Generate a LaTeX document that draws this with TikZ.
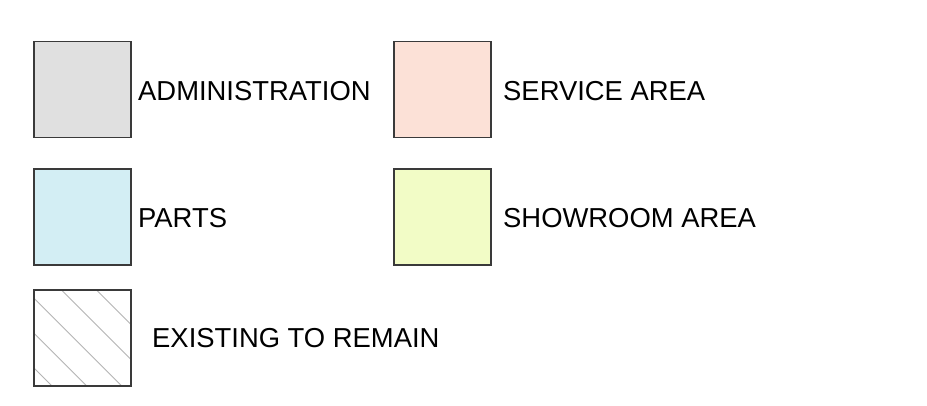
\documentclass[tikz,border=0pt]{standalone}
\usepackage{fontspec}
\setmainfont{Liberation Sans}
\usetikzlibrary{calc}
\definecolor{admincol}{HTML}{E0E0E0}
\definecolor{servcol}{HTML}{FCE1D7}
\definecolor{partscol}{HTML}{D3EEF4}
\definecolor{showcol}{HTML}{F2FCC6}
\definecolor{edgecol}{HTML}{3A3A3A}
\definecolor{hatchcol}{HTML}{B4B4B4}
\begin{document}
\begin{tikzpicture}[x=1pt,y=-1pt,
  swatch/.style={draw=edgecol,line width=1.3pt,minimum width=97pt,minimum height=96pt,inner sep=0pt},
  lbl/.style={anchor=base west,inner sep=0pt,font=\fontsize{27.4}{30}\selectfont,text=black}]
\useasboundingbox (0,0) rectangle (927,405);
\fill[white] (0,0) rectangle (927,405);
\node[swatch,fill=admincol] (adm) at (82.5,89.5) {};
\node[swatch,fill=servcol] (srv) at (442.5,89.5) {};
\node[swatch,fill=partscol] (prt) at (82.5,217) {};
\node[swatch,fill=showcol] (shw) at (442.5,217) {};
\node[swatch,fill=white] (ext) at (82.5,338) {};
\begin{scope}
\clip (ext.south west) rectangle (ext.north east);
\foreach \c in {62.4,27.4,-8.3,-43.3,-78} {
  \draw[hatchcol,line width=0.9pt] ($(ext.north west)+(\c,0)$) -- ++(140,140);
}
\end{scope}
\node[swatch,fill=none] at (ext) {};
\node[lbl] (tadm) at (138,100) {ADMINISTRATION};
\node[lbl] (tsrv) at (503,100) {SERVICE AREA};
\node[lbl] (tprt) at (138,227) {PARTS};
\node[lbl] (tshw) at (503,227) {SHOWROOM AREA};
\node[lbl] (text) at (152,347) {EXISTING TO REMAIN};
\end{tikzpicture}
\end{document}
